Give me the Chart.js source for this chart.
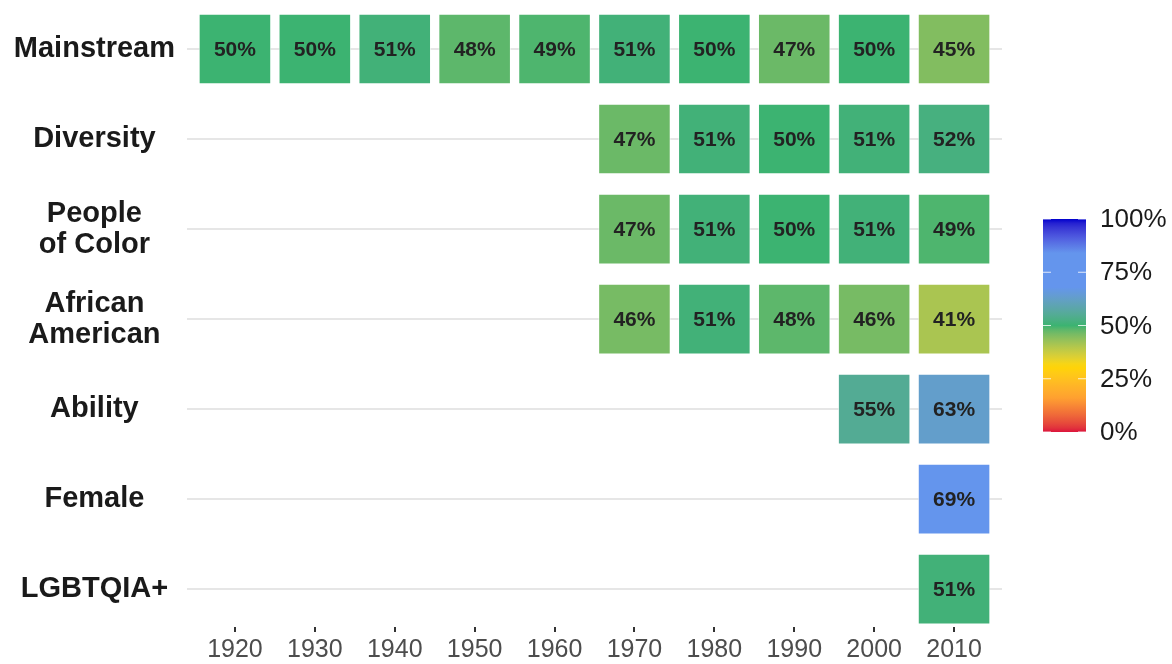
<!DOCTYPE html>
<html>
<head>
<meta charset="utf-8">
<script src="https://cdn.jsdelivr.net/npm/chart.js@4/dist/chart.umd.min.js"></script>
<style>
  html, body { margin: 0; padding: 0; background: #fff; }
  #wrap { width: 1172px; height: 664px; }
</style>
</head>
<body>
<div id="wrap"><canvas id="grafico_heatmap"></canvas></div>
<script>
// dados
const decadas = [1920, 1930, 1940, 1950, 1960, 1970, 1980, 1990, 2000, 2010];
const categorias = [['Mainstream'], ['Diversity'], ['People', 'of Color'], ['African', 'American'], ['Ability'], ['Female'], ['LGBTQIA+']];
const mainstream = [50, 50, 51, 48, 49, 51, 50, 47, 50, 45];
const diversity = [null, null, null, null, null, 47, 51, 50, 51, 52];
const peopleOfColor = [null, null, null, null, null, 47, 51, 50, 51, 49];
const africanAmerican = [null, null, null, null, null, 46, 51, 48, 46, 41];
const ability = [null, null, null, null, null, null, null, null, 55, 63];
const female = [null, null, null, null, null, null, null, null, null, 69];
const lgbtqia = [null, null, null, null, null, null, null, null, null, 51];
const series = [mainstream, diversity, peopleOfColor, africanAmerican, ability, female, lgbtqia];
const legendaTicks = [0, 25, 50, 75, 100];

// escala de cores (interpolada em Lab como no ggplot)
const paradas = [[0, '#DC143C'], [16, '#FFA030'], [31, '#FFD700'], [50, '#3CB371'], [68, '#6495ED'], [84, '#6495ED'], [100, '#0000CD']];

function hexToLab(h) {
  let rgb = [1, 3, 5].map(i => parseInt(h.substr(i, 2), 16) / 255)
    .map(c => c <= 0.04045 ? c / 12.92 : Math.pow((c + 0.055) / 1.055, 2.4));
  const [r, g, b] = rgb;
  const X = (0.4124 * r + 0.3576 * g + 0.1805 * b) / 0.95047;
  const Y = (0.2126 * r + 0.7152 * g + 0.0722 * b);
  const Z = (0.0193 * r + 0.1192 * g + 0.9505 * b) / 1.08883;
  const f = t => t > 0.008856 ? Math.cbrt(t) : 7.787 * t + 16 / 116;
  return [116 * f(Y) - 16, 500 * (f(X) - f(Y)), 200 * (f(Y) - f(Z))];
}
function labToRgb([L, a, bb]) {
  const fy = (L + 16) / 116, fx = fy + a / 500, fz = fy - bb / 200;
  const inv = t => t * t * t > 0.008856 ? t * t * t : (t - 16 / 116) / 7.787;
  const X = 0.95047 * inv(fx), Y = inv(fy), Z = 1.08883 * inv(fz);
  const lin = [
    3.2406 * X - 1.5372 * Y - 0.4986 * Z,
    -0.9689 * X + 1.8758 * Y + 0.0415 * Z,
    0.0557 * X - 0.2040 * Y + 1.0570 * Z
  ];
  const c = lin.map(v => v <= 0.0031308 ? 12.92 * v : 1.055 * Math.pow(v, 1 / 2.4) - 0.055)
    .map(v => Math.round(Math.max(0, Math.min(1, v)) * 255));
  return 'rgb(' + c.join(',') + ')';
}
const paradasLab = paradas.map(p => [p[0], hexToLab(p[1])]);
function cor(v) {
  for (let i = 0; i < paradasLab.length - 1; i++) {
    const [v0, c0] = paradasLab[i], [v1, c1] = paradasLab[i + 1];
    if (v >= v0 && v <= v1) {
      const t = (v - v0) / (v1 - v0);
      return labToRgb(c0.map((x, k) => x + (c1[k] - x) * t));
    }
  }
  return labToRgb(paradasLab[paradasLab.length - 1][1]);
}

// monta os pontos (barras flutuantes)
const pontos = [];
series.forEach((s, i) => {
  s.forEach((v, j) => {
    if (v !== null) pontos.push({ x: [decadas[j] - 4.5, decadas[j] + 4.5], y: i, v: v });
  });
});

const rotulosCelulas = {
  id: 'rotulosCelulas',
  afterDatasetsDraw(chart) {
    const ctx = chart.ctx;
    const meta = chart.getDatasetMeta(0);
    ctx.save();
    ctx.font = 'bold 21px "Liberation Sans", Arial, sans-serif';
    ctx.fillStyle = '#222222';
    ctx.textAlign = 'center';
    ctx.textBaseline = 'middle';
    meta.data.forEach((el, i) => {
      const p = el.getCenterPoint();
      ctx.fillText(pontos[i].v + '%', p.x, p.y + 1);
    });
    ctx.restore();
  }
};

const legendaCor = {
  id: 'legendaCor',
  afterDraw(chart) {
    const ctx = chart.ctx;
    const x0 = 1043, w = 43, top = 219, bottom = 432;
    const grad = ctx.createLinearGradient(0, bottom, 0, top);
    for (let v = 0; v <= 100; v += 2) grad.addColorStop(v / 100, cor(v));
    ctx.save();
    ctx.fillStyle = grad;
    ctx.fillRect(x0, top, w, bottom - top);
    ctx.font = '26px "Liberation Sans", Arial, sans-serif';
    ctx.textAlign = 'left';
    ctx.textBaseline = 'middle';
    legendaTicks.forEach(t => {
      const y = bottom - (bottom - top) * t / 100;
      ctx.strokeStyle = 'rgba(255,255,255,0.8)';
      ctx.lineWidth = 1;
      ctx.beginPath();
      ctx.moveTo(x0, y); ctx.lineTo(x0 + 8, y);
      ctx.moveTo(x0 + w - 8, y); ctx.lineTo(x0 + w, y);
      ctx.stroke();
      ctx.fillStyle = '#1a1a1a';
      ctx.fillText(t + '%', 1100, y + 1);
    });
    ctx.restore();
  }
};

new Chart(document.getElementById('grafico_heatmap'), {
  type: 'bar',
  data: {
    datasets: [{
      data: pontos,
      backgroundColor: ctx => ctx.raw ? cor(ctx.raw.v) : '#ccc',
      borderColor: 'rgba(255,255,255,0.55)',
      borderWidth: 1,
      borderSkipped: false,
      barThickness: 70
    }]
  },
  options: {
    indexAxis: 'y',
    responsive: true,
    maintainAspectRatio: false,
    animation: false,
    layout: { padding: { top: 4, right: 170, left: 0, bottom: 0 } },
    plugins: { legend: { display: false }, tooltip: { enabled: false } },
    scales: {
      x: {
        type: 'linear',
        min: 1914,
        max: 2016,
        offset: false,
        afterBuildTicks: s => { s.ticks = decadas.map(d => ({ value: d })); },
        afterFit: s => { s.height = 37; s.paddingLeft = 0; s.paddingRight = 0; },
        ticks: {
          callback: v => String(v),
          color: '#4d4d4d',
          font: { family: '"Liberation Sans", Arial, sans-serif', size: 25 },
          padding: 3,
          maxRotation: 0,
          autoSkip: false
        },
        grid: { drawOnChartArea: false, drawTicks: true, tickLength: 5, color: '#333333', lineWidth: 2, offset: false },
        border: { display: false }
      },
      y: {
        type: 'linear',
        reverse: true,
        min: -0.5,
        max: 6.42,
        offset: false,
        afterBuildTicks: s => { s.ticks = categorias.map((c, i) => ({ value: i })); },
        afterFit: s => { s.width = 187; s.paddingTop = 0; s.paddingBottom = 0; },
        ticks: {
          callback: v => categorias[v],
          color: '#1a1a1a',
          crossAlign: 'center',
          padding: 12,
          autoSkip: false,
          font: { family: '"Liberation Sans", Arial, sans-serif', size: 29, weight: 'bold', lineHeight: 1.07 }
        },
        grid: { color: '#e6e6e6', lineWidth: 2, drawTicks: false, offset: false },
        border: { display: false }
      }
    }
  },
  plugins: [rotulosCelulas, legendaCor]
});
</script>
</body>
</html>
